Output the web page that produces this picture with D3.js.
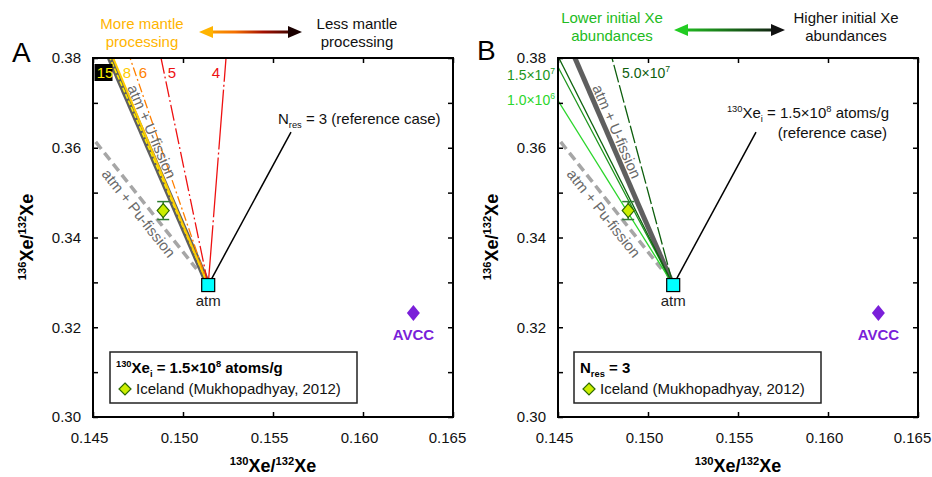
<!DOCTYPE html>
<html>
<head>
<meta charset="utf-8">
<script src="https://cdn.jsdelivr.net/npm/d3@7"></script>
<style>
  body { margin: 0; background: #fff; }
  text { font-family: "Liberation Sans", Arial, sans-serif; }
</style>
</head>
<body>
<svg id="chart" width="932" height="477"></svg>
<script>
// Axis ticks
const xTickValues = [0.145, 0.150, 0.155, 0.160, 0.165];
const yTickValues = [0.30, 0.31, 0.32, 0.33, 0.34, 0.35, 0.36, 0.37, 0.38];
const yTickLabelled = [0.30, 0.32, 0.34, 0.36, 0.38];

// Reference points [130Xe/132Xe, 136Xe/132Xe]
const atmPoint = [0.1514, 0.3294];
const avccPoint = [0.1628, 0.3232];
const icelandPoint = [0.1489, 0.3460];
const icelandErr = 0.0020;

// Mixing lines (end points, all start at atm except Pu-fission)
const uFissionEnd = [0.14594, 0.3800];
const puFissionLine = [[0.14515, 0.3613], [0.15075, 0.3330]];
const referenceEnd = [0.1560, 0.3635];

// Panel A: number of reservoirs
const nresNames = ["15", "8", "6", "5", "4"];
const nresEndX = [0.14594, 0.14612, 0.14706, 0.14878, 0.15239];
const nresEndY = [0.3800, 0.3800, 0.3800, 0.3800, 0.3800];

// Panel B: initial 130Xe abundance
const xeNames = ["1.0×10^6", "1.5×10^7", "", "5.0×10^7"];
const xeEndX = [0.1450, 0.1450, 0.14505, 0.1480];
const xeEndY = [0.3705, 0.3780, 0.3800, 0.3800];

// styles
const nresStyle = [
  { color: "#ffee00", width: 1.6, dash: "5,2" },
  { color: "#ffcc00", width: 2, dash: null },
  { color: "#ff7f00", width: 1.3, dash: "9,3,2,3" },
  { color: "#ee1111", width: 1.3, dash: "16,3,2,3" },
  { color: "#ee1111", width: 1.3, dash: "60,3,2,3" },
];
const xeStyle = [
  { color: "#2bd62b", width: 1.3, dash: null },
  { color: "#1c961c", width: 1.3, dash: null },
  { color: "#0d640d", width: 1.3, dash: null },
  { color: "#0d5e0d", width: 1.3, dash: "18,3" },
];

// small helper: set many attributes at once
d3.selection.prototype.attrs = function (o) {
  Object.entries(o).forEach(([k, v]) => this.attr(k, v));
  return this;
};

const svg = d3.select("#chart");
const FONT = 15;

// text with superscripts / subscripts
function rich(text, parts, size) {
  let shift = 0;
  parts.forEach(([s, kind]) => {
    const target = kind === "sup" ? -0.4 * size : kind === "sub" ? 0.28 * size : 0;
    text.append("tspan")
      .attr("dy", target - shift)
      .attr("font-size", kind ? 0.62 * size : size)
      .text(s);
    shift = target;
  });
  return text;
}

function sciParts(str) {
  const [base, exp] = str.split("^");
  return exp ? [[base, ""], [exp, "sup"]] : [[base, ""]];
}

const diamondPath = (cx, cy, w, h) =>
  `M${cx},${cy - h / 2}L${cx + w / 2},${cy}L${cx},${cy + h / 2}L${cx - w / 2},${cy}Z`;

const drawPanel = (p) => {
  const x = d3.scaleLinear().domain([0.145, 0.165]).range([p.left, p.left + 360]);
  const y = d3.scaleLinear().domain([0.30, 0.38]).range([417, 58]);
  const line = d3.line().x((d) => x(d[0])).y((d) => y(d[1]));
  const g = svg.append("g");

  // clip to plot area
  g.append("clipPath").attr("id", "clip" + p.name)
    .append("rect")
    .attrs({ x: x(0.145), y: y(0.38), width: 360, height: y(0.30) - y(0.38) });
  const plot = g.append("g").attr("clip-path", `url(#clip${p.name})`);

  // axes with inward ticks
  const fmtX = d3.format(".3f");
  const fmtY = (d) => (yTickLabelled.some((v) => Math.abs(v - d) < 1e-9) ? d3.format(".2f")(d) : "");
  const bottom = g.append("g").attr("transform", `translate(0,${y(0.30)})`)
    .call(d3.axisBottom(x).tickValues(xTickValues).tickFormat(fmtX).tickSizeInner(-5).tickSizeOuter(0).tickPadding(15));
  bottom.selectAll("text").attr("dx", (d, i) => (i === xTickValues.length - 1 ? -6 : -4));
  const axes = [
    bottom,
    g.append("g").attr("transform", `translate(0,${y(0.38)})`)
      .call(d3.axisTop(x).tickValues(xTickValues).tickFormat("").tickSizeInner(-5).tickSizeOuter(0)),
    g.append("g").attr("transform", `translate(${x(0.145)},0)`)
      .call(d3.axisLeft(y).tickValues(yTickValues).tickFormat(fmtY).tickSizeInner(-5).tickSizeOuter(0).tickPadding(12)),
    g.append("g").attr("transform", `translate(${x(0.165)},0)`)
      .call(d3.axisRight(y).tickValues(yTickValues).tickFormat("").tickSizeInner(-5).tickSizeOuter(0)),
  ];
  axes.forEach((a) => {
    a.select(".domain").remove();
    a.selectAll("line").attr("stroke-width", 1.5);
    a.selectAll("text").attr("font-size", FONT).attr("fill", "#111")
      .attr("font-family", '"Liberation Sans", Arial, sans-serif');
  });
  g.append("rect")
    .attrs({ x: x(0.145), y: y(0.38), width: 360, height: y(0.30) - y(0.38), fill: "none", stroke: "#000", "stroke-width": 2 });

  // axis titles
  rich(g.append("text")
    .attrs({ x: x(0.155), y: 472, "text-anchor": "middle", "font-weight": "bold" }),
    [["130", "sup"], ["Xe/", ""], ["132", "sup"], ["Xe", ""]], 18);
  rich(g.append("text")
    .attrs({ transform: `translate(${p.left - 60},237) rotate(-90)`, "text-anchor": "middle", "font-weight": "bold" }),
    [["136", "sup"], ["Xe/", ""], ["132", "sup"], ["Xe", ""]], 18);

  // panel letter
  g.append("text").attrs({ x: p.left - 81, y: p.letterY, "font-size": 28 }).text(p.name);

  // Pu-fission dashed
  plot.append("path").datum(puFissionLine)
    .attrs({ d: line, stroke: "#a6a6a6", "stroke-width": 3.5, "stroke-dasharray": "9,5", fill: "none" });

  // U-fission thick gray
  const uLine = [atmPoint, uFissionEnd];
  plot.append("path").datum(uLine)
    .attrs({ d: line, stroke: "#5f5f5f", "stroke-width": p.name === "A" ? 6 : 5, fill: "none" });

  // series lines
  p.endX.forEach((ex, i) => {
    const st = p.styles[i];
    plot.append("path").datum([atmPoint, [ex, p.endY[i]]])
      .attrs({ d: line, stroke: st.color, "stroke-width": st.width, "stroke-dasharray": st.dash, fill: "none" });
  });

  // reference line
  plot.append("path").datum([atmPoint, referenceEnd])
    .attrs({ d: line, stroke: "#000", "stroke-width": 1.5, fill: "none" });

  // rotated labels along fission lines
  const along = (a, b, t, dy, label) => {
    const x0 = x(a[0]), y0 = y(a[1]), x1 = x(b[0]), y1 = y(b[1]);
    const ang = Math.atan2(y1 - y0, x1 - x0) * 180 / Math.PI;
    const px = x0 + (x1 - x0) * t, py = y0 + (y1 - y0) * t;
    g.append("text")
      .attrs({ transform: `translate(${px},${py}) rotate(${ang})`, dy, "text-anchor": "middle", "font-size": FONT, fill: "#6a6a6a" })
      .text(label);
  };
  along(uFissionEnd, atmPoint, 0.34, -4, "atm + U-fission");
  along(puFissionLine[0], puFissionLine[1], 0.51, 16, "atm + Pu-fission");

  // atm square
  g.append("rect")
    .attrs({ x: x(atmPoint[0]) - 6.5, y: y(atmPoint[1]) - 6.5, width: 13, height: 13, fill: "#00ffff", stroke: "#000", "stroke-width": 1.2 });
  g.append("text")
    .attrs({ x: x(atmPoint[0]), y: y(atmPoint[1]) + 21, "text-anchor": "middle", "font-size": FONT, fill: "#222" })
    .text("atm");

  // AVCC
  g.append("path")
    .attrs({ d: diamondPath(x(avccPoint[0]), y(avccPoint[1]), 13, 16), fill: "#7a1fd9" });
  g.append("text")
    .attrs({ x: x(avccPoint[0]), y: y(avccPoint[1]) + 27, "text-anchor": "middle", "font-size": FONT, "font-weight": "bold", fill: "#7a1fd9" })
    .text("AVCC");

  // Iceland with error bar
  const ix = x(icelandPoint[0]);
  const eg = g.append("g").attr("stroke", "#2e7d32").attr("stroke-width", 1.5);
  eg.append("line").attrs({ x1: ix, x2: ix, y1: y(icelandPoint[1] - icelandErr), y2: y(icelandPoint[1] + icelandErr) });
  [-1, 1].forEach((s) => eg.append("line").attrs({
    x1: ix - 6, x2: ix + 6, y1: y(icelandPoint[1] + s * icelandErr), y2: y(icelandPoint[1] + s * icelandErr) }));
  g.append("path")
    .attrs({ d: diamondPath(ix, y(icelandPoint[1]), 12, 14), fill: "#ccee00", stroke: "#2d6b00", "stroke-width": 1.2 });

  // legend
  const lx = p.left + p.legendDx;
  g.append("rect").attrs({ x: lx, y: 352, width: 247, height: 51, fill: "#fff", stroke: "#222", "stroke-width": 1.5 });
  rich(g.append("text").attrs({ x: lx + 6, y: 373, "font-weight": "bold" }), p.legendTitle, FONT);
  g.append("path")
    .attrs({ d: diamondPath(lx + 15, 389, 12, 12), fill: "#ccee00", stroke: "#2d6b00", "stroke-width": 1.2 });
  g.append("text").attrs({ x: lx + 26, y: 394, "font-size": FONT, fill: "#111" })
    .text("Iceland (Mukhopadhyay, 2012)");

  // header with arrow
  const hdr = p.header;
  [hdr.left, hdr.right].forEach((h) => {
    h.lines.forEach((t, i) => {
      g.append("text")
        .attrs({ x: h.x, y: hdr.y + i * 18, "text-anchor": "middle", "font-size": FONT, fill: h.color })
        .text(t);
    });
  });
  const grad = svg.append("defs").append("linearGradient")
    .attrs({ id: "grad" + p.name, gradientUnits: "userSpaceOnUse", x1: hdr.ax1, x2: hdr.ax2, y1: 0, y2: 0 });
  hdr.stops.forEach(([o, c]) => grad.append("stop").attrs({ offset: o, "stop-color": c }));
  g.append("line")
    .attrs({ x1: hdr.ax1 + 10, x2: hdr.ax2 - 10, y1: hdr.ay, y2: hdr.ay, stroke: `url(#grad${p.name})`, "stroke-width": 3 });
  g.append("path")
    .attrs({ d: `M${hdr.ax1},${hdr.ay}L${hdr.ax1 + 14},${hdr.ay - 6}L${hdr.ax1 + 14},${hdr.ay + 6}Z`, fill: hdr.stops[0][1] });
  g.append("path")
    .attrs({ d: `M${hdr.ax2},${hdr.ay}L${hdr.ax2 - 14},${hdr.ay - 6}L${hdr.ax2 - 14},${hdr.ay + 6}Z`, fill: hdr.stops[hdr.stops.length - 1][1] });

  p.extra(g, x, y);
};

const panels = [
  {
    name: "A", left: 93, letterY: 62, legendDx: 17,
    endX: nresEndX, endY: nresEndY, styles: nresStyle,
    legendTitle: [["130", "sup"], ["Xe", ""], ["i", "sub"], [" = 1.5×10", ""], ["8", "sup"], [" atoms/g", ""]],
    header: {
      y: 29, ax1: 199, ax2: 302, ay: 32,
      stops: [[0, "#ffb400"], [0.35, "#f47000"], [0.62, "#a51000"], [1, "#1a0000"]],
      left: { x: 142, color: "#ffb400", lines: ["More mantle", "processing"] },
      right: { x: 357, color: "#111", lines: ["Less mantle", "processing"] },
    },
    extra: (g, x, y) => {
      // N_res labels near the top
      const lblX = [105, 127, 143, 172, 216];
      nresNames.forEach((n, i) => {
        if (i === 0) {
          g.append("rect").attrs({ x: 94.5, y: 64, width: 18, height: 17, fill: "#000" });
        }
        g.append("text")
          .attrs({ x: lblX[i], y: 78, "text-anchor": "middle", "font-size": FONT, fill: nresStyle[i].color })
          .text(n);
      });
      rich(g.append("text").attrs({ x: 278, y: 124, fill: "#111" }),
        [["N", ""], ["res", "sub"], [" = 3 (reference case)", ""]], FONT);
    },
  },
  {
    name: "B", left: 558, letterY: 60, legendDx: 16,
    endX: xeEndX, endY: xeEndY, styles: xeStyle,
    legendTitle: [["N", ""], ["res", "sub"], [" = 3", ""]],
    header: {
      y: 23, ax1: 674, ax2: 785, ay: 30,
      stops: [[0, "#22cc22"], [1, "#111"]],
      left: { x: 612, color: "#22bb22", lines: ["Lower initial Xe", "abundances"] },
      right: { x: 846, color: "#111", lines: ["Higher initial Xe", "abundances"] },
    },
    extra: (g, x, y) => {
      rich(g.append("text").attrs({ x: 555, y: 105, "text-anchor": "end", fill: xeStyle[0].color }), sciParts(xeNames[0]), 14);
      rich(g.append("text").attrs({ x: 555, y: 80, "text-anchor": "end", fill: xeStyle[1].color }), sciParts(xeNames[1]), 14);
      rich(g.append("text").attrs({ x: 622, y: 78, fill: xeStyle[3].color }), sciParts(xeNames[3]), 14);
      rich(g.append("text").attrs({ x: 889, y: 118, "text-anchor": "end", fill: "#111" }),
        [["130", "sup"], ["Xe", ""], ["i", "sub"], [" = 1.5×10", ""], ["8", "sup"], [" atoms/g", ""]], FONT);
      g.append("text").attrs({ x: 887, y: 138, "text-anchor": "end", "font-size": FONT, fill: "#111" })
        .text("(reference case)");
    },
  },
];

panels.forEach(drawPanel);
</script>
</body>
</html>
